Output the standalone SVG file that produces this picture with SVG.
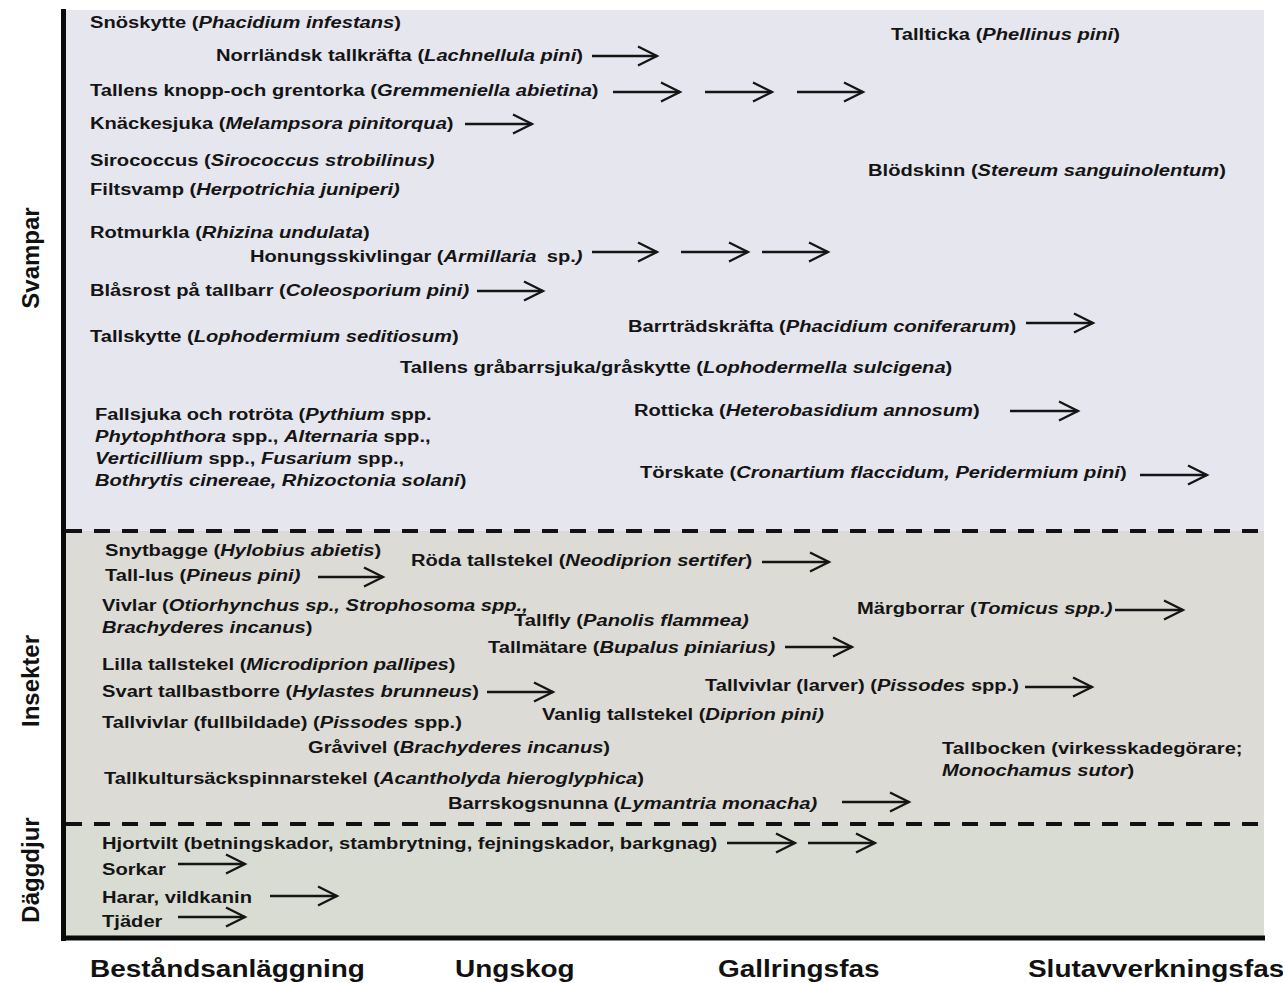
<svg xmlns="http://www.w3.org/2000/svg" width="1283" height="983" viewBox="0 0 1283 983">
<style>
.t{font-family:"Liberation Sans",Arial,sans-serif;font-weight:bold;font-size:17px;fill:#141414}
.i{font-style:italic}
.ax{font-family:"Liberation Sans",Arial,sans-serif;font-weight:bold;font-size:24px;fill:#111}
.side{font-family:"Liberation Sans",Arial,sans-serif;font-weight:bold;font-size:24px;fill:#111;text-anchor:middle}
.ar{stroke:#151515;stroke-width:2.3;fill:none;marker-end:url(#ah)}
.dash{stroke:#111;stroke-width:4;stroke-dasharray:16 12;fill:none}
</style>
<defs>
<marker id="ah" viewBox="-24 -12 28 24" refX="0" refY="0" markerWidth="28" markerHeight="24" markerUnits="userSpaceOnUse" orient="auto">
<path d="M-19,-9.5 L0,0 L-19,9.5" fill="none" stroke="#151515" stroke-width="2.3"/>
</marker>
</defs>
<rect width="1283" height="983" fill="#ffffff"/>
<g id="bands">
<rect x="66" y="10" width="1198" height="521" fill="#e6e6ee"/>
<rect x="66" y="531" width="1198" height="293" fill="#dddbd6"/>
<rect x="66" y="824" width="1198" height="112" fill="#d9dcd3"/>
<line class="dash" x1="66" y1="531" x2="1265" y2="531"/>
<line class="dash" x1="66" y1="824" x2="1265" y2="824"/>
</g>
<g id="axes">
<line x1="63.5" y1="9" x2="63.5" y2="941" stroke="#0a0a0a" stroke-width="5"/>
<line x1="61" y1="938" x2="1265" y2="938" stroke="#0a0a0a" stroke-width="5"/>
</g>
<g id="group-labels">
<text class="side" transform="translate(39,258) rotate(-90)">Svampar</text>
<text class="side" transform="translate(39,681) rotate(-90)">Insekter</text>
<text class="side" transform="translate(39,870) rotate(-90)">Däggdjur</text>
</g>
<g id="phase-labels" transform="scale(1.165 1)">
<text class="ax" x="77.3" y="977">Beståndsanläggning</text>
<text class="ax" x="390.6" y="977">Ungskog</text>
<text class="ax" x="616.3" y="977">Gallringsfas</text>
<text class="ax" x="882.4" y="977">Slutavverkningsfas</text>
</g>
<g id="nodes" transform="scale(1.185 1)">
<g id="n-snoskytte"><text class="t" x="75.95" y="28">Snöskytte (<tspan class="i">Phacidium infestans</tspan>)</text></g>
<g id="n-norrlandsk"><text class="t" x="182.3" y="61">Norrländsk tallkräfta (<tspan class="i">Lachnellula pini</tspan>)</text></g>
<g id="n-tallens-knopp"><text class="t" x="75.95" y="96">Tallens knopp-och grentorka (<tspan class="i">Gremmeniella abietina</tspan>)</text></g>
<g id="n-knackesjuka"><text class="t" x="75.95" y="129">Knäckesjuka (<tspan class="i">Melampsora pinitorqua</tspan>)</text></g>
<g id="n-sirococcus"><text class="t" x="75.95" y="166">Sirococcus (<tspan class="i">Sirococcus strobilinus)</tspan></text></g>
<g id="n-filtsvamp"><text class="t" x="75.95" y="195">Filtsvamp (<tspan class="i">Herpotrichia juniperi)</tspan></text></g>
<g id="n-rotmurkla"><text class="t" x="75.95" y="238">Rotmurkla (<tspan class="i">Rhizina undulata</tspan>)</text></g>
<g id="n-honung"><text class="t" x="211.0" y="262">Honungsskivlingar (<tspan class="i">Armillaria</tspan><tspan dx="4"> sp.</tspan><tspan class="i">)</tspan></text></g>
<g id="n-blasrost"><text class="t" x="75.95" y="296">Blåsrost på tallbarr (<tspan class="i">Coleosporium pini)</tspan></text></g>
<g id="n-tallskytte"><text class="t" x="75.95" y="342">Tallskytte (<tspan class="i">Lophodermium seditiosum</tspan>)</text></g>
<g id="n-grabarr"><text class="t" x="337.6" y="373">Tallens gråbarrsjuka/gråskytte (<tspan class="i">Lophodermella sulcigena</tspan>)</text></g>
<g id="n-fallsjuka"><text class="t" x="80.2" y="420">Fallsjuka och rotröta (<tspan class="i">Pythium</tspan> spp.<tspan x="80.2" dy="22" class="i">Phytophthora</tspan> spp., <tspan class="i">Alternaria</tspan> spp.,<tspan x="80.2" dy="22" class="i">Verticillium</tspan> spp., <tspan class="i">Fusarium</tspan> spp.,<tspan x="80.2" dy="22" class="i">Bothrytis cinereae, Rhizoctonia solani</tspan>)</text></g>
<g id="n-tallticka"><text class="t" x="751.9" y="40">Tallticka (<tspan class="i">Phellinus pini</tspan>)</text></g>
<g id="n-blodskinn"><text class="t" x="732.5" y="176">Blödskinn (<tspan class="i">Stereum sanguinolentum</tspan>)</text></g>
<g id="n-barrtrad"><text class="t" x="530.0" y="332">Barrträdskräfta (<tspan class="i">Phacidium coniferarum</tspan>)</text></g>
<g id="n-rotticka"><text class="t" x="535.0" y="416">Rotticka (<tspan class="i">Heterobasidium annosum</tspan>)</text></g>
<g id="n-torskate"><text class="t" x="540.1" y="478">Törskate (<tspan class="i">Cronartium flaccidum, Peridermium pini</tspan>)</text></g>
<g id="n-snytbagge"><text class="t" x="88.6" y="556">Snytbagge (<tspan class="i">Hylobius abietis</tspan>)</text></g>
<g id="n-tall-lus"><text class="t" x="88.6" y="581">Tall-lus (<tspan class="i">Pineus pini)</tspan></text></g>
<g id="n-roda"><text class="t" x="346.8" y="566">Röda tallstekel (<tspan class="i">Neodiprion sertifer</tspan>)</text></g>
<g id="n-vivlar"><text class="t" x="86.1" y="611">Vivlar (<tspan class="i">Otiorhynchus sp., Strophosoma spp.,</tspan><tspan x="86.1" dy="22" class="i">Brachyderes incanus</tspan>)</text></g>
<g id="n-tallfly"><text class="t" x="433.8" y="626">Tallfly (<tspan class="i">Panolis flammea)</tspan></text></g>
<g id="n-tallmatare"><text class="t" x="411.8" y="653">Tallmätare (<tspan class="i">Bupalus piniarius)</tspan></text></g>
<g id="n-margborrar"><text class="t" x="723.2" y="614">Märgborrar (<tspan class="i">Tomicus spp.)</tspan></text></g>
<g id="n-lilla"><text class="t" x="86.1" y="670">Lilla tallstekel (<tspan class="i">Microdiprion pallipes</tspan>)</text></g>
<g id="n-svart"><text class="t" x="86.1" y="697">Svart tallbastborre (<tspan class="i">Hylastes brunneus</tspan>)</text></g>
<g id="n-tallvivlar-larver"><text class="t" x="594.9" y="691">Tallvivlar (larver) (<tspan class="i">Pissodes</tspan> spp.)</text></g>
<g id="n-vanlig"><text class="t" x="457.4" y="720">Vanlig tallstekel (<tspan class="i">Diprion pini)</tspan></text></g>
<g id="n-tallvivlar-full"><text class="t" x="86.1" y="728">Tallvivlar (fullbildade) (<tspan class="i">Pissodes</tspan> spp.)</text></g>
<g id="n-gravivel"><text class="t" x="259.9" y="753">Gråvivel (<tspan class="i">Brachyderes incanus</tspan>)</text></g>
<g id="n-tallbocken"><text class="t" x="794.9" y="754">Tallbocken (virkesskadegörare;<tspan x="794.9" dy="22" class="i">Monochamus sutor</tspan>)</text></g>
<g id="n-tallkultur"><text class="t" x="87.8" y="784">Tallkultursäckspinnarstekel (<tspan class="i">Acantholyda hieroglyphica</tspan>)</text></g>
<g id="n-barrskog"><text class="t" x="378.1" y="809">Barrskogsnunna (<tspan class="i">Lymantria monacha)</tspan></text></g>
<g id="n-hjortvilt"><text class="t" x="86.1" y="849">Hjortvilt (betningskador, stambrytning, fejningskador, barkgnag)</text></g>
<g id="n-sorkar"><text class="t" x="86.1" y="875">Sorkar</text></g>
<g id="n-harar"><text class="t" x="86.1" y="903">Harar, vildkanin</text></g>
<g id="n-tjader"><text class="t" x="86.1" y="927">Tjäder</text></g>
</g>
<g id="connectors">
<line class="ar" x1="592" y1="56" x2="657" y2="56"/>
<line class="ar" x1="613" y1="92" x2="680" y2="92"/>
<line class="ar" x1="705" y1="92" x2="772" y2="92"/>
<line class="ar" x1="797" y1="92" x2="863" y2="92"/>
<line class="ar" x1="465" y1="124" x2="532" y2="124"/>
<line class="ar" x1="592" y1="252" x2="657" y2="252"/>
<line class="ar" x1="681" y1="252" x2="748" y2="252"/>
<line class="ar" x1="762" y1="252" x2="828" y2="252"/>
<line class="ar" x1="477" y1="291" x2="543" y2="291"/>
<line class="ar" x1="1026" y1="323" x2="1093" y2="323"/>
<line class="ar" x1="1010" y1="411" x2="1078" y2="411"/>
<line class="ar" x1="1140" y1="475" x2="1207" y2="475"/>
<line class="ar" x1="318" y1="577" x2="383" y2="577"/>
<line class="ar" x1="762" y1="562" x2="829" y2="562"/>
<line class="ar" x1="785" y1="647" x2="852" y2="647"/>
<line class="ar" x1="1115" y1="610" x2="1183" y2="610"/>
<line class="ar" x1="487" y1="692" x2="553" y2="692"/>
<line class="ar" x1="1025" y1="687" x2="1092" y2="687"/>
<line class="ar" x1="842" y1="802" x2="909" y2="802"/>
<line class="ar" x1="727" y1="843" x2="795" y2="843"/>
<line class="ar" x1="808" y1="843" x2="875" y2="843"/>
<line class="ar" x1="178" y1="864" x2="245" y2="864"/>
<line class="ar" x1="270" y1="896" x2="337" y2="896"/>
<line class="ar" x1="178" y1="917" x2="245" y2="917"/>
</g>
</svg>
